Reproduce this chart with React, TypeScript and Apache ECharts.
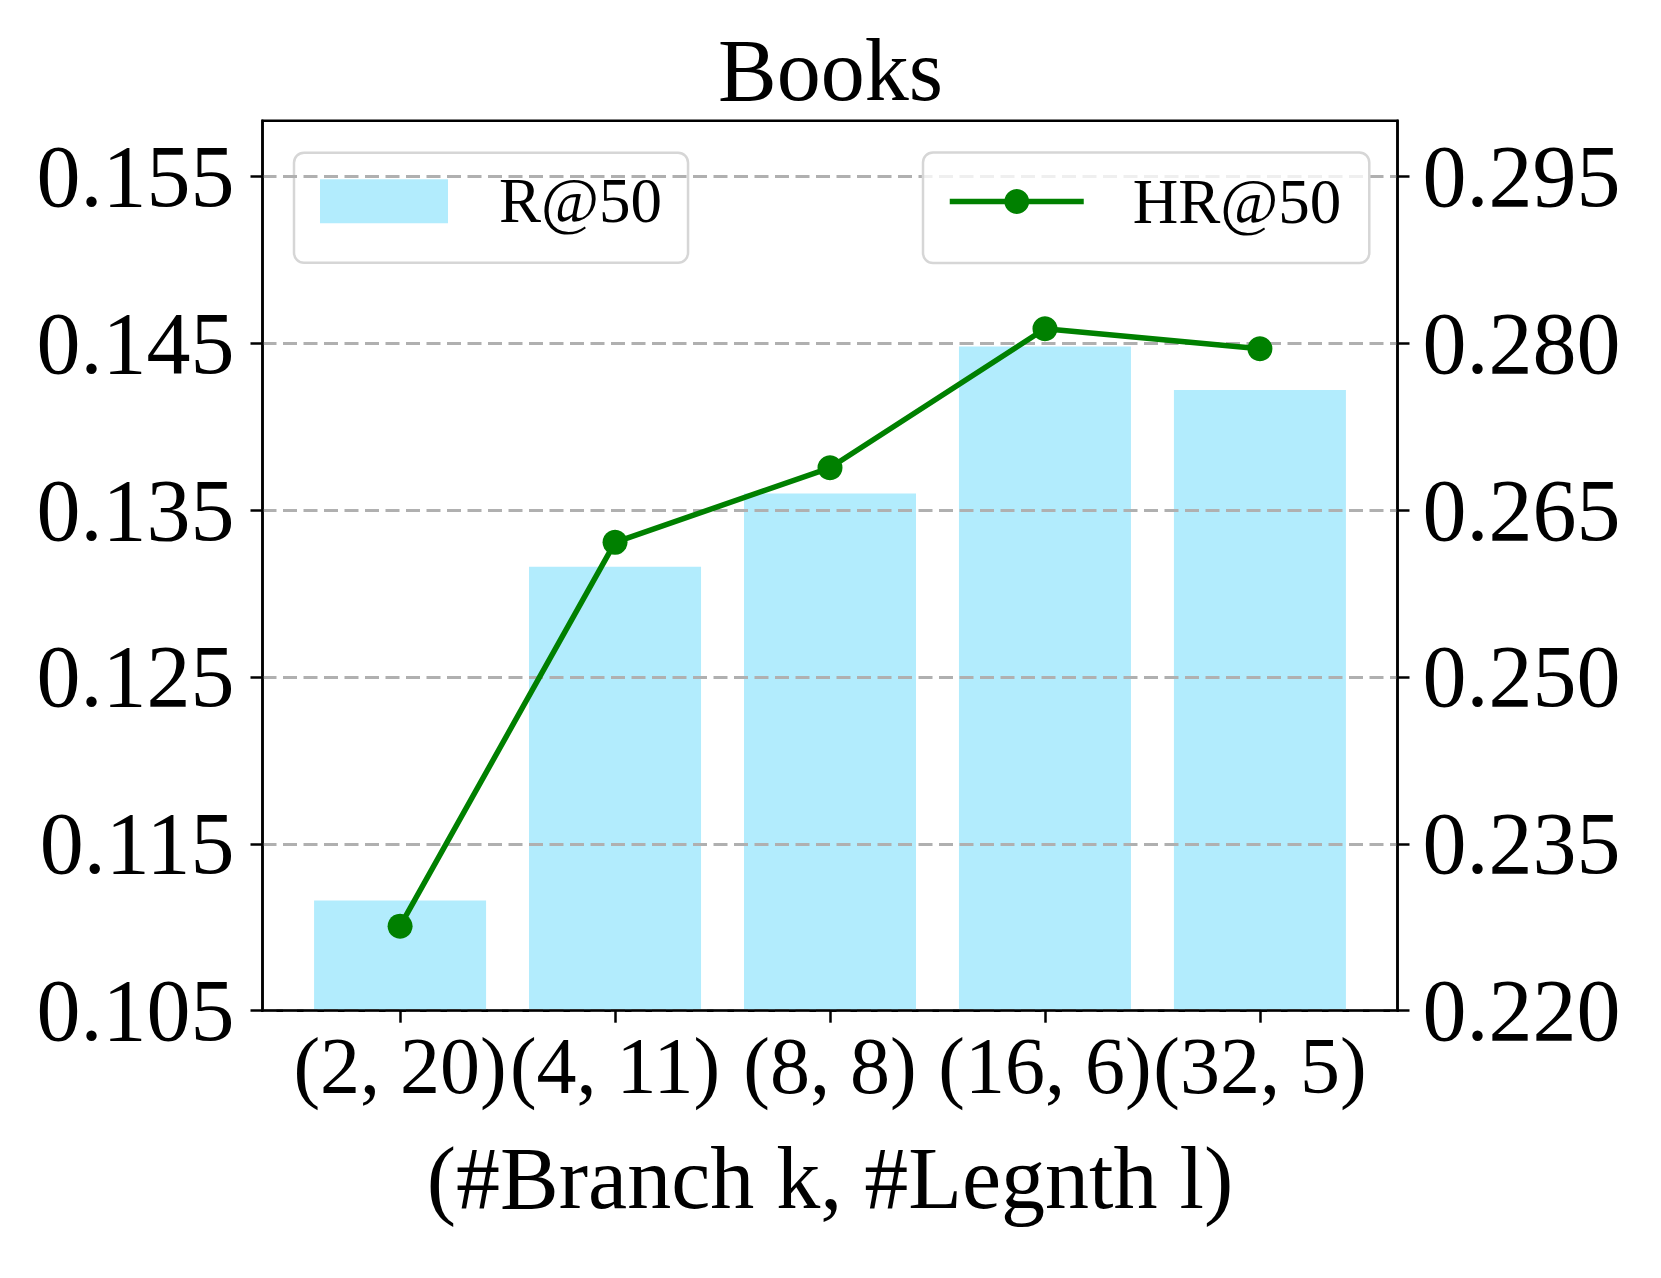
import React, { useEffect, useRef } from "react";
import * as echarts from "echarts";

const categories = ["(2, 20)", "(4, 11)", "(8, 8)", "(16, 6)", "(32, 5)"];
const recallValues = [0.1116, 0.1316, 0.136, 0.1448, 0.1422];
const hitRateValues = [0.2276, 0.2621, 0.2688, 0.2813, 0.2795];
const leftTicks = [0.105, 0.115, 0.125, 0.135, 0.145, 0.155];
const rightTicks = [0.22, 0.235, 0.25, 0.265, 0.28, 0.295];
const categoryTicks = [0, 1, 2, 3, 4];

const FONT = '"Liberation Serif", "Times New Roman", Times, serif';

export default function App() {
  const ref = useRef<HTMLDivElement>(null);

  useEffect(() => {
    document.body.style.margin = "0";
    if (!ref.current) return;
    const chart = echarts.init(ref.current, null, { renderer: "svg" });

    const axisLineStyle = { color: "#000", width: 2.5 };
    const tickStyle = { color: "#000", width: 2.5 };

    const option: any = {
      animation: false,
      backgroundColor: "#fff",
      title: {
        text: "Books",
        left: "center",
        top: 26,
        padding: 0,
        textStyle: {
          fontFamily: FONT,
          fontSize: 88,
          lineHeight: 88,
          fontWeight: "normal",
          color: "#000",
        },
      },
      grid: {
        left: 262.5,
        right: 263.5,
        top: 120.7,
        bottom: 267.3,
        show: true,
        borderColor: "#000",
        borderWidth: 2.5,
        backgroundColor: "transparent",
        containLabel: false,
        outerBoundsMode: "none",
      },
      legend: [
        {
          data: ["R@50"],
          left: 294,
          top: 152.7,
          orient: "horizontal",
          icon: "rect",
          itemWidth: 128,
          itemHeight: 44,
          padding: [17, 26, 30, 26],
          selectedMode: false,
          backgroundColor: "rgba(255,255,255,0.8)",
          borderColor: "#d6d6d6",
          borderWidth: 2.5,
          borderRadius: 10,
          z: 1,
          textStyle: {
            fontFamily: FONT,
            fontSize: 63,
            lineHeight: 63,
            color: "#000",
            padding: [0, 0, 0, 46],
          },
        },
        {
          data: ["HR@50"],
          left: 923,
          top: 152.5,
          orient: "horizontal",
          itemWidth: 134,
          itemHeight: 31,
          padding: [17.5, 28, 30, 24],
          selectedMode: false,
          backgroundColor: "rgba(255,255,255,0.8)",
          borderColor: "#d6d6d6",
          borderWidth: 2.5,
          borderRadius: 10,
          z: 4,
          lineStyle: { width: 5.5, color: "#008000" },
          textStyle: {
            fontFamily: FONT,
            fontSize: 63,
            lineHeight: 63,
            color: "#000",
            padding: [0, 0, 0, 44],
          },
        },
      ],
      xAxis: {
        type: "value",
        min: -0.64,
        max: 4.64,
        z: 2,
        name: "(#Branch k, #Legnth l)",
        nameLocation: "middle",
        nameGap: 123.6,
        nameTextStyle: {
          fontFamily: FONT,
          fontSize: 88,
          lineHeight: 88,
          color: "#000",
        },
        axisLine: { show: true, onZero: false, lineStyle: axisLineStyle },
        axisTick: {
          show: true,
          inside: false,
          length: 12,
          lineStyle: tickStyle,
          customValues: categoryTicks,
        },
        axisLabel: {
          show: true,
          customValues: categoryTicks,
          formatter: (v: number) => categories[Math.round(v)] ?? "",
          fontFamily: FONT,
          fontSize: 80,
          lineHeight: 80,
          color: "#000",
          margin: 15,
        },
        splitLine: { show: false },
      },
      yAxis: [
        {
          type: "value",
          position: "left",
          min: 0.105,
          max: 0.158333,
          interval: 0.01,
          z: 2,
          axisLine: { show: true, onZero: false, lineStyle: axisLineStyle },
          axisTick: {
            show: true,
            inside: false,
            length: 12,
            lineStyle: tickStyle,
            customValues: leftTicks,
          },
          axisLabel: {
            show: true,
            customValues: leftTicks,
            formatter: (v: number) => v.toFixed(3),
            fontFamily: FONT,
            fontSize: 88,
            lineHeight: 88,
            color: "#000",
            margin: 28,
          },
          splitLine: { show: false },
        },
        {
          type: "value",
          position: "right",
          min: 0.22,
          max: 0.3,
          interval: 0.015,
          z: 2,
          axisLine: { show: true, onZero: false, lineStyle: axisLineStyle },
          axisTick: {
            show: true,
            inside: false,
            length: 12,
            lineStyle: tickStyle,
            customValues: rightTicks,
          },
          axisLabel: {
            show: true,
            customValues: rightTicks,
            formatter: (v: number) => v.toFixed(3),
            fontFamily: FONT,
            fontSize: 88,
            lineHeight: 88,
            color: "#000",
            margin: 25,
          },
          splitLine: {
            show: true,
            lineStyle: {
              color: "#b0b0b0",
              width: 3,
              type: [14, 6.5],
            },
          },
        },
      ],
      series: [
        {
          name: "R@50",
          type: "bar",
          xAxisIndex: 0,
          yAxisIndex: 0,
          barWidth: 172,
          z: 1,
          itemStyle: { color: "#b2ecfd" },
          data: recallValues.map((v, i) => [i, v]),
        },
        {
          name: "HR@50",
          type: "line",
          xAxisIndex: 0,
          yAxisIndex: 1,
          z: 3,
          symbol: "circle",
          symbolSize: 25,
          showSymbol: true,
          lineStyle: { color: "#008000", width: 5.5 },
          itemStyle: { color: "#008000" },
          data: hitRateValues.map((v, i) => [i, v]),
        },
      ],
    };

    chart.setOption(option);
    return () => chart.dispose();
  }, []);

  return (
    <div
      ref={ref}
      style={{ width: 1661, height: 1278, position: "absolute", left: 0, top: 0 }}
    />
  );
}
